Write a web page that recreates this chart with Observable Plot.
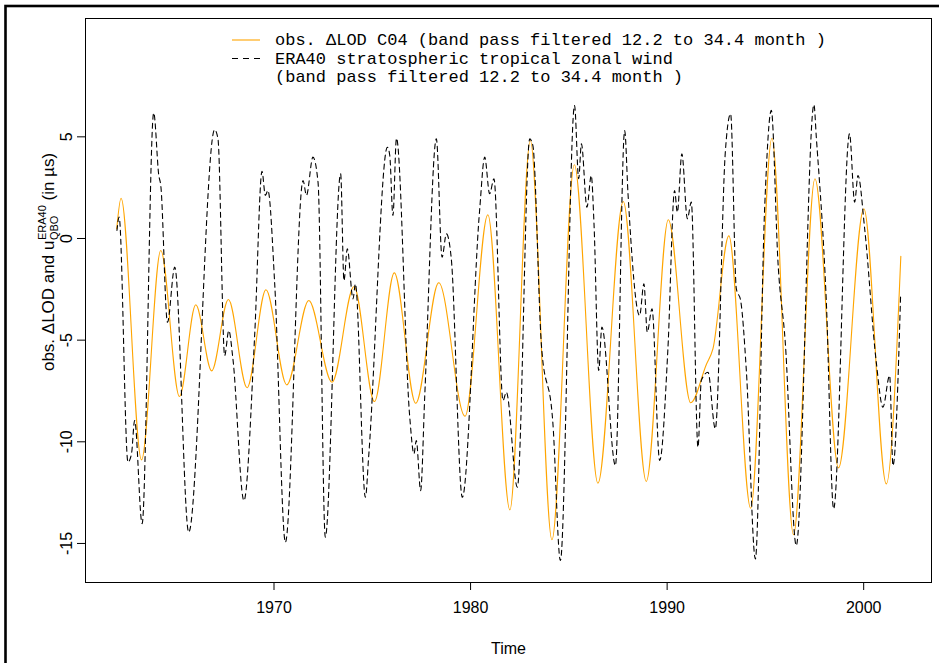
<!DOCTYPE html>
<html><head><meta charset="utf-8">
<script src="https://cdn.jsdelivr.net/npm/d3@7"></script>
<script src="https://cdn.jsdelivr.net/npm/@observablehq/plot@0.6"></script>
<style>
body{margin:0;background:#fff}
#chart{position:relative;width:939px;height:663px;overflow:hidden;background:#fff}
</style>
</head><body><div id="chart"></div>
<script>
// observed ΔLOD C04, band-pass filtered (time in decimal years, value in µs)
const lodYears = [1962.00,1962.22,1963.26,1964.24,1965.19,1966.02,1966.83,1967.68,1968.63,1969.59,1970.65,1971.77,1972.95,1974.07,1975.11,1976.12,1977.21,1978.38,1979.72,1980.88,1982.00,1983.04,1984.14,1985.28,1986.48,1987.77,1988.94,1990.06,1991.20,1991.99,1992.33,1993.14,1994.25,1995.33,1996.43,1997.52,1998.72,2000.01,2001.15,2001.89];
const lodValues = [0.48,1.98,-10.89,-0.59,-7.77,-3.26,-6.51,-3.00,-7.34,-2.52,-7.20,-3.05,-7.07,-2.36,-8.02,-1.69,-8.10,-2.18,-8.74,1.17,-13.35,4.82,-14.82,3.63,-12.04,1.82,-11.95,0.92,-8.08,-6.21,-5.43,0.13,-13.27,4.93,-14.57,2.94,-11.28,1.46,-12.07,-0.87];

// ERA40 stratospheric tropical zonal wind, band-pass filtered
const windYears = [1962.01,1962.12,1962.57,1962.75,1962.91,1963.29,1963.88,1964.14,1964.24,1964.58,1964.95,1965.66,1966.98,1967.15,1967.49,1967.70,1967.91,1968.47,1969.02,1969.39,1969.56,1969.69,1970.04,1970.58,1971.48,1971.65,1971.98,1972.24,1972.61,1973.39,1973.56,1973.73,1974.02,1974.14,1974.65,1974.82,1975.77,1975.89,1976.05,1976.23,1976.90,1977.12,1977.24,1977.46,1977.67,1978.26,1978.55,1978.77,1979.02,1979.58,1980.46,1980.72,1980.97,1981.19,1981.65,1981.82,1982.38,1983.01,1983.17,1983.60,1984.19,1984.57,1985.29,1985.50,1985.64,1985.92,1986.14,1986.28,1986.52,1986.68,1987.37,1987.84,1988.01,1988.60,1988.82,1988.99,1989.23,1989.62,1990.04,1990.38,1990.52,1990.75,1991.03,1991.23,1991.57,1991.74,1992.08,1992.45,1992.96,1993.23,1993.52,1993.74,1994.03,1994.49,1994.96,1995.30,1995.64,1996.01,1996.57,1997.47,1997.59,1998.10,1998.47,1999.28,1999.54,1999.71,2000.05,2000.64,2000.98,2001.32,2001.49,2001.88];
const windValues = [0.39,1.05,-11.0,-10.59,-8.95,-14.03,6.18,3.10,2.61,-4.12,-1.41,-14.45,5.35,4.90,-5.76,-4.53,-5.92,-12.89,-4.69,3.30,2.12,2.36,-2.31,-14.94,2.85,2.12,4.0,2.77,-14.69,3.18,-2.07,-0.51,-2.97,-2.23,-12.73,-10.67,4.49,4.08,1.13,4.93,-8.71,-10.59,-9.94,-12.40,-7.72,4.90,-0.92,0.23,-1.0,-12.73,1.38,4.0,2.20,2.94,-7.97,-7.56,-12.23,4.90,4.57,-5.18,-9.11,-15.84,6.54,2.94,4.66,1.54,3.10,0.72,-6.49,-4.36,-11.17,5.31,2.20,-3.79,-2.23,-4.61,-3.46,-10.92,-5.43,2.36,1.29,4.17,0.97,1.79,-10.27,-6.98,-6.58,-9.36,4.24,6.13,-2.47,-3.05,-6.49,-15.76,1.46,6.30,-1.17,-5.10,-15.10,6.58,4.98,-3.13,-13.30,5.15,1.79,3.10,0.48,-6.08,-8.30,-6.74,-11.17,-2.72];

const xTicks = [1970, 1980, 1990, 2000];
const yTicks = [-15, -10, -5, 0, 5];
const xDomain = [1960.41, 2003.45];
const yDomain = [-16.92, 10.82];
const xLabel = "Time";
const legendLine1 = "obs. ΔLOD C04 (band pass filtered 12.2 to 34.4 month )";
const legendLine2 = "ERA40 stratospheric tropical zonal wind";
const legendLine3 = "(band pass filtered 12.2 to 34.4 month )";

const lod = lodYears.map((t, i) => ({t, v: lodValues[i]}));
const wind = windYears.map((t, i) => ({t, v: windValues[i]}));

const sans = "'Liberation Sans', Arial, Helvetica, sans-serif";
const mono = "'Liberation Mono', 'Courier New', monospace";

const plot = Plot.plot({
  width: 939, height: 663,
  marginLeft: 85, marginRight: 8, marginTop: 18, marginBottom: 81,
  x: {domain: xDomain},
  y: {domain: yDomain},
  style: {fontFamily: sans, fontSize: "16px", background: "#fff", color: "black"},
  marks: [
    Plot.frame({stroke: "black", strokeWidth: 1}),
    Plot.axisX({ticks: xTicks, tickSize: 8, tickFormat: () => "", label: null, stroke: "black"}),
    Plot.axisY({ticks: yTicks, tickSize: 8, tickFormat: () => "", label: null, stroke: "black"}),
    Plot.text(xTicks, {x: d => d, frameAnchor: "bottom", dy: 25, text: d => String(d), lineAnchor: "middle", fontSize: 16, fill: "black"}),
    Plot.text(yTicks, {y: d => d, frameAnchor: "left", dx: -19, text: d => String(d), rotate: -90, textAnchor: "middle", lineAnchor: "middle", fontSize: 16, fill: "black"}),
    Plot.text([xLabel], {frameAnchor: "bottom", dy: 66, text: d => d, lineAnchor: "middle", fontSize: 16, fill: "black"}),
    Plot.line(lod, {x: "t", y: "v", stroke: "orange", strokeWidth: 1.1, curve: "monotone-x"}),
    Plot.line(wind, {x: "t", y: "v", stroke: "black", strokeWidth: 1.1, strokeDasharray: "5,4", curve: "monotone-x"})
  ]
});
document.getElementById("chart").appendChild(plot);

const svg = d3.select(plot);
// outer figure border
svg.append("rect").attr("x", 5.5).attr("y", 6).attr("width", 1000).attr("height", 1000)
  .attr("fill", "none").attr("stroke", "black").attr("stroke-width", 2.6);

// legend
const lg = svg.append("g").style("font-family", mono).style("font-size", "17px")
  .attr("fill", "black").attr("text-anchor", "start");
lg.append("line").attr("x1", 232).attr("x2", 260).attr("y1", 40).attr("y2", 40).attr("stroke", "orange").attr("stroke-width", 1.1);
lg.append("line").attr("x1", 232).attr("x2", 260).attr("y1", 58.5).attr("y2", 58.5).attr("stroke", "black").attr("stroke-width", 1.1).attr("stroke-dasharray", "6,5");
const rows = [legendLine1, legendLine2, legendLine3];
const rowY = [40, 58.5, 77];
rows.forEach((r, i) => {
  lg.append("text").attr("x", 275).attr("y", rowY[i]).attr("dy", "0.32em").attr("xml:space", "preserve").style("white-space", "pre").text(r);
});

// y-axis title with stacked sub/superscript
const yt = svg.append("g").style("font-family", sans).attr("fill", "black").attr("text-anchor", "start");
const inner = yt.append("g");
const p1 = inner.append("text").attr("font-size", 17).text("obs. ΔLOD and u");
const w1 = p1.node().getComputedTextLength();
const sub = inner.append("text").attr("font-size", 11).attr("x", w1 + 0.5).attr("y", 4).text("QBO");
const sup = inner.append("text").attr("font-size", 11).attr("x", w1 + 0.5).attr("y", -8).text("ERA40");
const w2 = Math.max(sub.node().getComputedTextLength(), sup.node().getComputedTextLength()) + 0.5;
const p3 = inner.append("text").attr("font-size", 17).attr("x", w1 + w2).attr("xml:space", "preserve").style("white-space", "pre").text(" (in µs)");
const total = w1 + w2 + p3.node().getComputedTextLength();
inner.attr("transform", `translate(${-total / 2},0)`);
yt.attr("transform", `translate(54,262) rotate(-90)`);
</script>
</body></html>
